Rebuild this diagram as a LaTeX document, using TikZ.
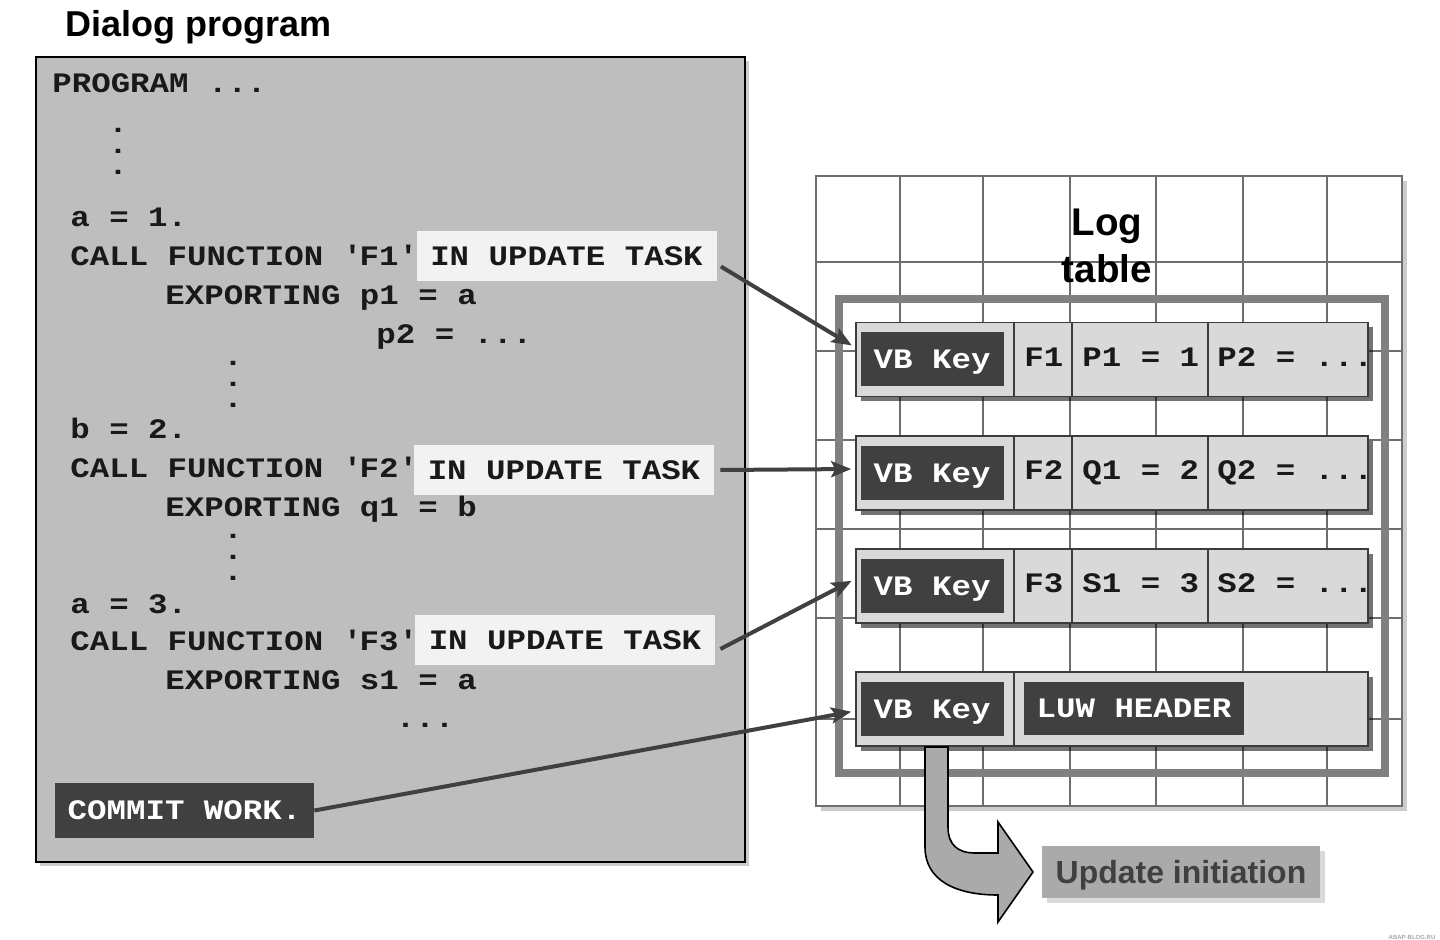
\documentclass[tikz,border=0pt]{standalone}
\usepackage{fontspec}
\usetikzlibrary{arrows.meta,positioning,shadows}
\newfontfamily\codefont[FakeStretch=1.15]{Liberation Mono}
\newfontfamily\labelfont{Liberation Sans}
\definecolor{panelgray}{RGB}{190,190,190}
\definecolor{keydark}{RGB}{64,64,64}
\definecolor{codeblack}{RGB}{25,25,25}
\definecolor{rowgray}{RGB}{217,217,217}
\definecolor{rowedge}{RGB}{60,60,60}
\definecolor{framegray}{RGB}{128,128,128}
\definecolor{gridgray}{RGB}{110,110,110}
\definecolor{taskwhite}{RGB}{242,242,242}
\definecolor{initgray}{RGB}{170,170,170}
\newcommand{\etcdots}{...}

\tikzset{
  codefont/.style={font=\codefont\bfseries\fontsize{14.1}{16}\selectfont},
  codetext/.style={codefont, anchor=base west, inner sep=0pt, text=codeblack},
  dotstack/.style={font=\codefont\bfseries\fontsize{14.1}{10.5}\selectfont, align=center, inner sep=0pt, text=codeblack},
  taskbox/.style={codefont, fill=taskwhite, text=codeblack, inner sep=0pt, text depth=0pt, minimum width=150pt, minimum height=25pt},
  darkbox/.style={codefont, fill=keydark, text=white, inner sep=0pt, text depth=0pt},
  logrow/.style={fill=rowgray, draw=rowedge, line width=0.8pt, inner sep=0pt, minimum width=256pt, minimum height=37pt,
    drop shadow={shadow xshift=2.5pt, shadow yshift=-2.5pt, fill=black, opacity=0.55}},
  celledge/.style={draw=rowedge, line width=0.8pt},
  gridline/.style={draw=gridgray, line width=1pt},
  flowarrow/.style={draw=keydark, line width=2pt, -{Stealth[length=10pt,width=8pt,inset=2pt]}},
}

\begin{document}
\begin{tikzpicture}[x=0.5pt, y=-0.5pt]
\useasboundingbox (0,0) rectangle (1440,940);

% dialog program
\node[anchor=base west, inner sep=0pt, font=\labelfont\bfseries\fontsize{18}{22}\selectfont] (title) at (65,37) {Dialog program};
\node[fill=panelgray, draw=black, line width=1pt, minimum width=354.5pt, minimum height=402.5pt,
  drop shadow={shadow xshift=2pt, shadow yshift=-2pt, fill=black, opacity=0.2}] (prog) at (390.5,459.5) {};

\node[codetext] (progline) at (52,92.5) {PROGRAM \etcdots};
\node[dotstack] (dotsa) at (118,151) {.\\.\\.};
\node[codetext] (aone) at (70,226.5) {a = 1.};
\node[codetext] (callone) at (70,265.5) {CALL FUNCTION \textquotesingle F1\textquotesingle};
\node[codetext] (expone) at (165,304.5) {EXPORTING p1 = a};
\node[codetext] (exptwo) at (376,343.5) {p2 = \etcdots};
\node[dotstack] (dotsb) at (233,384) {.\\.\\.};
\node[codetext] (btwo) at (70,439) {b = 2.};
\node[codetext] (calltwo) at (70,478) {CALL FUNCTION \textquotesingle F2\textquotesingle};
\node[codetext] (expq) at (165,517) {EXPORTING q1 = b};
\node[dotstack] (dotsc) at (233,557) {.\\.\\.};
\node[codetext] (athree) at (70,613) {a = 3.};
\node[codetext] (callthree) at (70,650.5) {CALL FUNCTION \textquotesingle F3\textquotesingle};
\node[codetext] (exps) at (165,689.5) {EXPORTING s1 = a};
\node[codetext] (more) at (395.5,727) {\etcdots};

\node[taskbox] (task1) at (566.5,256.5) {IN UPDATE TASK};
\node[taskbox] (task2) at (564,470) {IN UPDATE TASK};
\node[taskbox] (task3) at (565,640) {IN UPDATE TASK};
\node[darkbox, minimum width=129.5pt, minimum height=27.5pt] (commit) at (184.5,810.5) {COMMIT WORK.};

% log table
\node[fill=white, draw=gridgray, line width=1pt, minimum width=293pt, minimum height=315pt,
  drop shadow={shadow xshift=2.5pt, shadow yshift=-2.5pt, fill=black, opacity=0.2}] (logbg) at (1109,491) {};
\foreach \x in {900,983,1070,1156,1243,1327}
  \draw[gridline] (\x,176) -- (\x,806);
\foreach \y in {262,351,440,529,618,719}
  \draw[gridline] (816,\y) -- (1402,\y);
\node[align=center, inner sep=0pt, font=\labelfont\bfseries\fontsize{19.3}{23.5}\selectfont] (logtitle) at (1107,246) {Log\\table};
\draw[framegray, line width=4pt] (839,299) rectangle (1385,773);

\foreach \n/\y/\fn/\pa/\pb in {1/359.5/F1/P1 = 1/P2 = \etcdots, 2/473/F2/Q1 = 2/Q2 = \etcdots, 3/586/F3/S1 = 3/S2 = \etcdots}{
  \node[logrow] (row\n) at (1112,\y) {};
  \node[darkbox, minimum width=71.5pt, minimum height=27pt, right=2.5pt of row\n.west] (key\n) {VB Key};
  \draw[celledge] (1014,\y-37) -- (1014,\y+37);
  \draw[celledge] (1072,\y-37) -- (1072,\y+37);
  \draw[celledge] (1208,\y-37) -- (1208,\y+37);
  \node[codetext] (fn\n) at (1024,\y+7) {\fn};
  \node[codetext] (pa\n) at (1082,\y+7) {\pa};
  \node[codetext] (pb\n) at (1217,\y+7) {\pb};
}
\node[logrow] (row4) at (1112,709) {};
\node[darkbox, minimum width=71.5pt, minimum height=27pt, right=2.5pt of row4.west] (key4) {VB Key};
\draw[celledge] (1014,672) -- (1014,746);
\node[darkbox, minimum width=110pt, minimum height=26.5pt] (luw) at (1134,708.5) {LUW HEADER};

% connectors
\draw[flowarrow, shorten >=2pt] ([xshift=2pt,yshift=-5pt]task1.east) -- ([yshift=6pt]row1.west);
\draw[flowarrow, shorten >=2pt] ([xshift=3pt]task2.east) -- ([yshift=2pt]row2.west);
\draw[flowarrow, shorten >=2pt] ([xshift=2.5pt,yshift=-4.5pt]task3.east) -- ([yshift=3.5pt]row3.west);
\draw[flowarrow, shorten >=2pt] (commit.east) -- ([yshift=-1pt]row4.west);

% update initiation
\filldraw[fill=initgray, draw=black, line width=0.8pt] (925,747) -- (925,847) .. controls (925,880) and (955,895) .. (998,895)
  -- (998,922) -- (1033,872) -- (998,822) -- (998,853) -- (975,853) .. controls (958,853) and (948,845) .. (948,827) -- (948,747) -- cycle;
\node[fill=initgray, text=keydark, inner sep=0pt, text depth=0pt, minimum width=139pt, minimum height=26pt,
  font=\labelfont\bfseries\fontsize{16}{19}\selectfont,
  drop shadow={shadow xshift=2.5pt, shadow yshift=-2.5pt, fill=black, opacity=0.15}] (init) at (1181,872) {Update initiation};

\node[inner sep=0pt, text=gray!70, font=\labelfont\bfseries\fontsize{3}{3}\selectfont] (blog) at (1412,937) {ABAP-BLOG.RU};
\end{tikzpicture}
\end{document}
